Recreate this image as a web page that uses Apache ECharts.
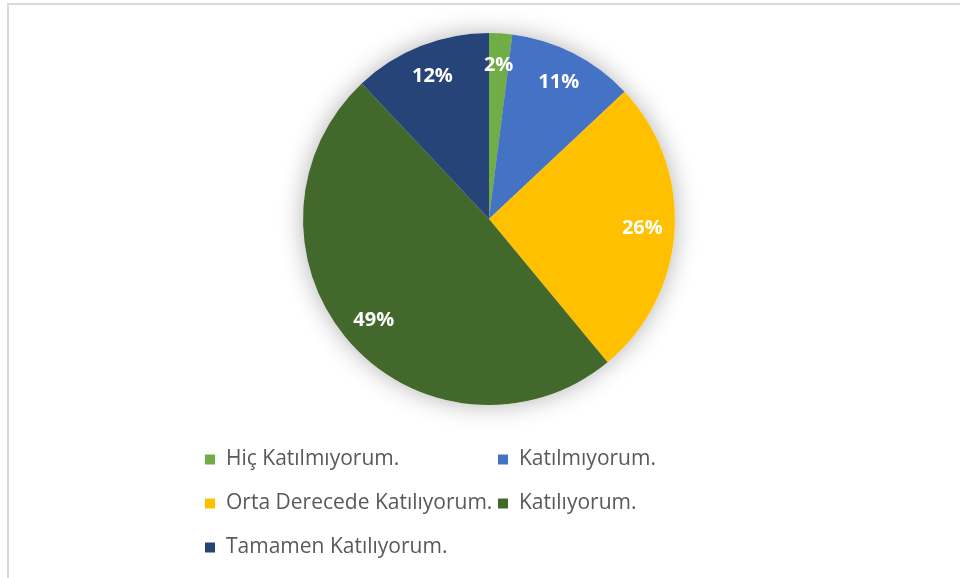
<!DOCTYPE html>
<html>
<head>
<meta charset="utf-8">
<script src="https://cdn.jsdelivr.net/npm/echarts@6/dist/echarts.min.js"></script>
<style>
html,body{margin:0;padding:0;background:#fff;}
#chart{width:960px;height:578px;}
</style>
</head>
<body>
<div id="chart"></div>
<script>
const categories = ['Hiç Katılmıyorum.', 'Katılmıyorum.', 'Orta Derecede Katılıyorum.', 'Katılıyorum.', 'Tamamen Katılıyorum.'];
const values = [2, 11, 26, 49, 12];
const colors = ['#70AD47', '#4472C4', '#FFC000', '#43682B', '#264478'];
const legendColumn1 = ['Hiç Katılmıyorum.', 'Orta Derecede Katılıyorum.', 'Tamamen Katılıyorum.'];
const legendColumn2 = ['Katılmıyorum.', 'Katılıyorum.'];

const pieData = categories.map((name, i) => ({ name: name, value: values[i], itemStyle: { color: colors[i] } }));
const center = [489, 219];
const R = 186;

const chart = echarts.init(document.getElementById('chart'), null, { renderer: 'canvas' });
const legendBase = {
  orient: 'vertical',
  itemWidth: 10,
  itemHeight: 10,
  itemGap: 23,
  icon: 'rect',
  selectedMode: false,
  textStyle: { fontFamily: 'Open Sans', fontSize: 21, color: '#595959', padding: [0, 0, 0, 6] }
};
chart.setOption({
  animation: false,
  graphic: [{
    type: 'rect',
    shape: { x: 8, y: 4, width: 980, height: 600 },
    style: { fill: 'none', stroke: '#d9d9d9', lineWidth: 2 },
    silent: true, z: 0
  }],
  legend: [
    Object.assign({}, legendBase, { left: 200, top: 444, data: legendColumn1 }),
    Object.assign({}, legendBase, { left: 493, top: 444, data: legendColumn2 })
  ],
  series: [
    {
      type: 'pie', name: 'main', z: 3,
      center: center, radius: [0, R], startAngle: 90, clockwise: true,
      label: { show: false }, labelLine: { show: false },
      emphasis: { disabled: true },
      data: pieData
    },
    {
      type: 'pie', name: 'shadow', z: 1, silent: true,
      center: center, radius: [0, R], startAngle: 90, clockwise: true,
      label: { show: false }, labelLine: { show: false },
      itemStyle: { color: '#ffffff', shadowBlur: 24, shadowColor: 'rgba(0,0,0,0.3)' },
      emphasis: { disabled: true },
      data: categories.map((name, i) => ({ name: name, value: values[i] }))
    },
    {
      type: 'pie', name: 'labels', z: 4, silent: true,
      center: center, radius: [R * 0.62, R], startAngle: 90, clockwise: true,
      itemStyle: { color: 'rgba(0,0,0,0)' },
      label: {
        show: true, position: 'inside', formatter: '{c}%',
        color: '#ffffff', fontFamily: 'Open Sans', fontWeight: 'bold', fontSize: 20
      },
      labelLine: { show: false },
      emphasis: { disabled: true },
      data: categories.map((name, i) => ({ name: name, value: values[i] }))
    }
  ]
});
</script>
</body>
</html>
